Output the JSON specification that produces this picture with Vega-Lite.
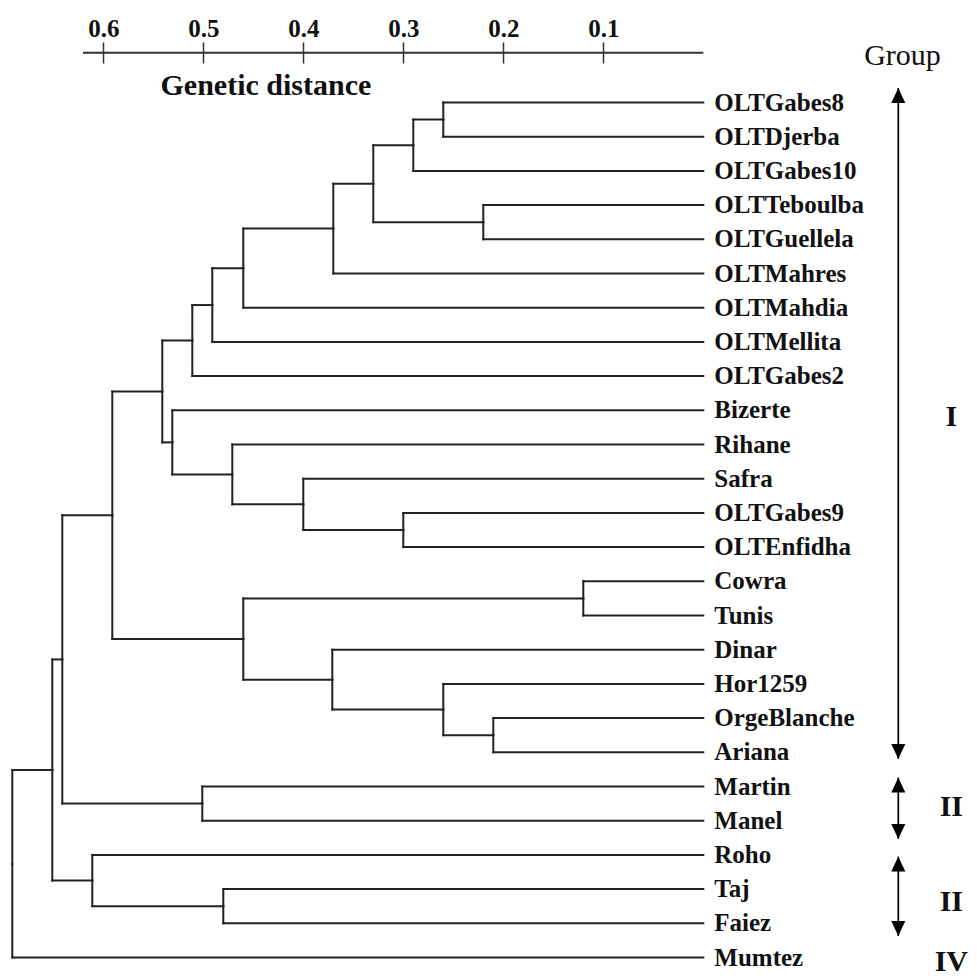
{
  "$schema": "https://vega.github.io/schema/vega-lite/v6.json",
  "width": 977,
  "height": 915,
  "autosize": {"type": "none"},
  "padding": {"left": 0, "top": 63, "right": 0, "bottom": 0},
  "background": "white",
  "config": {"view": {"stroke": null}},
  "datasets": {
    "edges": [
      {"child": "OLTGabes8", "cx": 0, "cy": 0, "px": 0.26, "py": 0.5},
      {"child": "OLTDjerba", "cx": 0, "cy": 1, "px": 0.26, "py": 0.5},
      {"child": "n1", "cx": 0.26, "cy": 0.5, "px": 0.29, "py": 1.25},
      {"child": "OLTGabes10", "cx": 0, "cy": 2, "px": 0.29, "py": 1.25},
      {"child": "OLTTeboulba", "cx": 0, "cy": 3, "px": 0.22, "py": 3.5},
      {"child": "OLTGuellela", "cx": 0, "cy": 4, "px": 0.22, "py": 3.5},
      {"child": "n2", "cx": 0.29, "cy": 1.25, "px": 0.33, "py": 2.375},
      {"child": "n3", "cx": 0.22, "cy": 3.5, "px": 0.33, "py": 2.375},
      {"child": "n4", "cx": 0.33, "cy": 2.375, "px": 0.37, "py": 3.6875},
      {"child": "OLTMahres", "cx": 0, "cy": 5, "px": 0.37, "py": 3.6875},
      {"child": "n5", "cx": 0.37, "cy": 3.6875, "px": 0.46, "py": 4.84375},
      {"child": "OLTMahdia", "cx": 0, "cy": 6, "px": 0.46, "py": 4.84375},
      {"child": "n6", "cx": 0.46, "cy": 4.84375, "px": 0.491, "py": 5.921875},
      {"child": "OLTMellita", "cx": 0, "cy": 7, "px": 0.491, "py": 5.921875},
      {"child": "n7", "cx": 0.491, "cy": 5.921875, "px": 0.511, "py": 6.9609375},
      {"child": "OLTGabes2", "cx": 0, "cy": 8, "px": 0.511, "py": 6.9609375},
      {"child": "OLTGabes9", "cx": 0, "cy": 12, "px": 0.30, "py": 12.5},
      {"child": "OLTEnfidha", "cx": 0, "cy": 13, "px": 0.30, "py": 12.5},
      {"child": "Safra", "cx": 0, "cy": 11, "px": 0.40, "py": 11.75},
      {"child": "n9", "cx": 0.30, "cy": 12.5, "px": 0.40, "py": 11.75},
      {"child": "Rihane", "cx": 0, "cy": 10, "px": 0.471, "py": 10.875},
      {"child": "n10", "cx": 0.40, "cy": 11.75, "px": 0.471, "py": 10.875},
      {"child": "Bizerte", "cx": 0, "cy": 9, "px": 0.531, "py": 9.9375},
      {"child": "n11", "cx": 0.471, "cy": 10.875, "px": 0.531, "py": 9.9375},
      {"child": "n8", "cx": 0.511, "cy": 6.9609375, "px": 0.541, "py": 8.44921875},
      {"child": "n12", "cx": 0.531, "cy": 9.9375, "px": 0.541, "py": 8.44921875},
      {"child": "Cowra", "cx": 0, "cy": 14, "px": 0.12, "py": 14.5},
      {"child": "Tunis", "cx": 0, "cy": 15, "px": 0.12, "py": 14.5},
      {"child": "OrgeBlanche", "cx": 0, "cy": 18, "px": 0.21, "py": 18.5},
      {"child": "Ariana", "cx": 0, "cy": 19, "px": 0.21, "py": 18.5},
      {"child": "Hor1259", "cx": 0, "cy": 17, "px": 0.26, "py": 17.75},
      {"child": "n17", "cx": 0.21, "cy": 18.5, "px": 0.26, "py": 17.75},
      {"child": "Dinar", "cx": 0, "cy": 16, "px": 0.371, "py": 16.875},
      {"child": "n18", "cx": 0.26, "cy": 17.75, "px": 0.371, "py": 16.875},
      {"child": "n16", "cx": 0.12, "cy": 14.5, "px": 0.46, "py": 15.6875},
      {"child": "n19", "cx": 0.371, "cy": 16.875, "px": 0.46, "py": 15.6875},
      {"child": "n13", "cx": 0.541, "cy": 8.44921875, "px": 0.591, "py": 12.068359375},
      {"child": "n15", "cx": 0.46, "cy": 15.6875, "px": 0.591, "py": 12.068359375},
      {"child": "Martin", "cx": 0, "cy": 20, "px": 0.501, "py": 20.5},
      {"child": "Manel", "cx": 0, "cy": 21, "px": 0.501, "py": 20.5},
      {"child": "n14", "cx": 0.591, "cy": 12.068359375, "px": 0.641, "py": 16.2841796875},
      {"child": "n20", "cx": 0.501, "cy": 20.5, "px": 0.641, "py": 16.2841796875},
      {"child": "Taj", "cx": 0, "cy": 23, "px": 0.48, "py": 23.5},
      {"child": "Faiez", "cx": 0, "cy": 24, "px": 0.48, "py": 23.5},
      {"child": "Roho", "cx": 0, "cy": 22, "px": 0.611, "py": 22.75},
      {"child": "n22", "cx": 0.48, "cy": 23.5, "px": 0.611, "py": 22.75},
      {"child": "nA", "cx": 0.641, "cy": 16.2841796875, "px": 0.651, "py": 19.51708984375},
      {"child": "n21", "cx": 0.611, "cy": 22.75, "px": 0.651, "py": 19.51708984375},
      {"child": "nB", "cx": 0.651, "cy": 19.51708984375, "px": 0.691, "py": 22.258544921875},
      {"child": "Mumtez", "cx": 0, "cy": 25, "px": 0.691, "py": 22.258544921875}
    ],
    "leaves": [
      {"name": "OLTGabes8", "i": 0},
      {"name": "OLTDjerba", "i": 1},
      {"name": "OLTGabes10", "i": 2},
      {"name": "OLTTeboulba", "i": 3},
      {"name": "OLTGuellela", "i": 4},
      {"name": "OLTMahres", "i": 5},
      {"name": "OLTMahdia", "i": 6},
      {"name": "OLTMellita", "i": 7},
      {"name": "OLTGabes2", "i": 8},
      {"name": "Bizerte", "i": 9},
      {"name": "Rihane", "i": 10},
      {"name": "Safra", "i": 11},
      {"name": "OLTGabes9", "i": 12},
      {"name": "OLTEnfidha", "i": 13},
      {"name": "Cowra", "i": 14},
      {"name": "Tunis", "i": 15},
      {"name": "Dinar", "i": 16},
      {"name": "Hor1259", "i": 17},
      {"name": "OrgeBlanche", "i": 18},
      {"name": "Ariana", "i": 19},
      {"name": "Martin", "i": 20},
      {"name": "Manel", "i": 21},
      {"name": "Roho", "i": 22},
      {"name": "Taj", "i": 23},
      {"name": "Faiez", "i": 24},
      {"name": "Mumtez", "i": 25}
    ],
    "groups": [
      {"group": "I", "top": -0.424, "bottom": 19.196, "mid": 9.2},
      {"group": "II", "top": 19.74, "bottom": 21.535, "mid": 20.6},
      {"group": "II", "top": 22.05, "bottom": 24.37, "mid": 23.37},
      {"group": "IV", "top": null, "bottom": null, "mid": 25.12}
    ],
    "axisline": [{"from": 0.6203, "to": 0, "level": -1.456}]
  },
  "layer": [
    {
      "data": {"name": "edges"},
      "mark": {"type": "rule", "color": "#222222", "strokeWidth": 2, "strokeCap": "square"},
      "encoding": {
        "x": {
          "field": "cx", "type": "quantitative",
          "scale": {"domain": [0.7033, -0.2737], "nice": false, "zero": false},
          "axis": {
            "orient": "top",
            "values": [0.1, 0.2, 0.3, 0.4, 0.5, 0.6],
            "format": ".1f",
            "domain": false,
            "grid": false,
            "ticks": true,
            "tickSize": 21,
            "tickWidth": 1.5,
            "tickColor": "#333333",
            "labelFont": "Liberation Serif",
            "labelFontWeight": "bold",
            "labelFontSize": 25,
            "labelColor": "#111111",
            "labelBaseline": "alphabetic",
            "labelPadding": 6,
            "title": "Genetic distance",
            "titleFont": "Liberation Serif",
            "titleFontWeight": "bold",
            "titleFontSize": 30,
            "titleColor": "#111111",
            "titleX": 160,
            "titleY": 22,
            "titleAlign": "left",
            "titleBaseline": "middle",
            "titleAngle": 0
          }
        },
        "x2": {"field": "px"},
        "y": {
          "field": "cy", "type": "quantitative",
          "scale": {"domain": [-1.155, 25.599], "reverse": true, "nice": false, "zero": false},
          "axis": null
        }
      }
    },
    {
      "data": {"name": "edges"},
      "mark": {"type": "rule", "color": "#222222", "strokeWidth": 2, "strokeCap": "square"},
      "encoding": {
        "x": {"field": "px", "type": "quantitative"},
        "y": {"field": "cy", "type": "quantitative"},
        "y2": {"field": "py"}
      }
    },
    {
      "data": {"name": "axisline"},
      "mark": {"type": "rule", "color": "#333333", "strokeWidth": 2},
      "encoding": {
        "x": {"field": "from", "type": "quantitative"},
        "x2": {"field": "to"},
        "y": {"field": "level", "type": "quantitative"}
      }
    },
    {
      "data": {"name": "leaves"},
      "mark": {"type": "text", "align": "left", "baseline": "middle", "dx": 11, "font": "Liberation Serif", "fontWeight": "bold", "fontSize": 25, "color": "#111111"},
      "encoding": {
        "x": {"datum": 0, "type": "quantitative"},
        "y": {"field": "i", "type": "quantitative"},
        "text": {"field": "name"}
      }
    },
    {
      "data": {"name": "groups"},
      "transform": [{"filter": "datum.top != null"}],
      "mark": {"type": "rule", "color": "#000000", "strokeWidth": 1.7},
      "encoding": {
        "x": {"datum": -0.195, "type": "quantitative"},
        "y": {"field": "top", "type": "quantitative"},
        "y2": {"field": "bottom"}
      }
    },
    {
      "data": {"name": "groups"},
      "transform": [{"filter": "datum.top != null"}],
      "mark": {"type": "point", "filled": true, "color": "#000000", "opacity": 1, "size": 900, "shape": "M0,0L-0.467,1L0.467,1Z"},
      "encoding": {
        "x": {"datum": -0.195, "type": "quantitative"},
        "y": {"field": "top", "type": "quantitative"}
      }
    },
    {
      "data": {"name": "groups"},
      "transform": [{"filter": "datum.top != null"}],
      "mark": {"type": "point", "filled": true, "color": "#000000", "opacity": 1, "size": 900, "shape": "M0,0L-0.467,-1L0.467,-1Z"},
      "encoding": {
        "x": {"datum": -0.195, "type": "quantitative"},
        "y": {"field": "bottom", "type": "quantitative"}
      }
    },
    {
      "data": {"name": "groups"},
      "mark": {"type": "text", "align": "center", "baseline": "middle", "font": "Liberation Serif", "fontWeight": "bold", "fontSize": 30, "color": "#111111"},
      "encoding": {
        "x": {"datum": -0.248, "type": "quantitative"},
        "y": {"field": "mid", "type": "quantitative"},
        "text": {"field": "group"}
      }
    },
    {
      "data": {"values": [{"label": "Group"}]},
      "mark": {"type": "text", "align": "center", "baseline": "middle", "font": "Liberation Serif", "fontSize": 30, "color": "#111111"},
      "encoding": {
        "x": {"datum": -0.1992, "type": "quantitative"},
        "y": {"datum": -1.36, "type": "quantitative"},
        "text": {"field": "label"}
      }
    }
  ]
}
